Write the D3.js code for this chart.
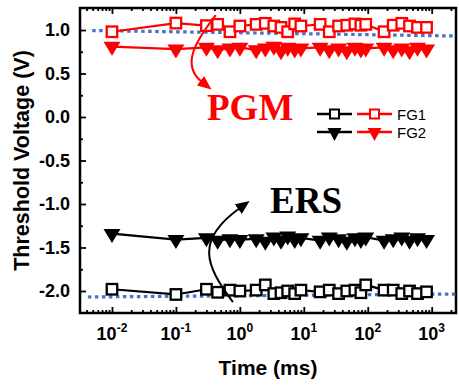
<!DOCTYPE html>
<html lang="en">
<head>
<meta charset="utf-8">
<title>Threshold Voltage vs Time</title>
<script src="https://d3js.org/d3.v7.min.js"></script>
<style>
  body { margin: 0; background: #fff; }
  svg text { font-family: "Liberation Sans", Arial, sans-serif; }
</style>
</head>
<body>
<div id="chart"></div>
<script>
// time points (ms)
var times = [0.01, 0.1, 0.3, 0.45, 0.7, 1, 1.8, 2.5, 3.4, 4.4, 5.6, 7.2, 9,
             18, 25, 35, 47, 63, 78, 93, 180, 250, 340, 450, 600, 830];

// threshold voltages (V)
var fg1Pgm = [0.98, 1.08, 1.05, 1.065, 0.98, 1.046, 1.065, 1.077, 1.046, 1.03, 0.98, 1.07, 1.046,
              1.065, 0.98, 1.046, 1.055, 1.07, 1.055, 1.065, 0.98, 1.055, 1.077, 1.046, 1.03, 1.03];
var fg2Pgm = [0.81, 0.78, 0.80, 0.77, 0.79, 0.80, 0.77, 0.79, 0.81, 0.76, 0.80, 0.78, 0.79,
              0.80, 0.77, 0.79, 0.76, 0.80, 0.78, 0.79, 0.80, 0.77, 0.79, 0.76, 0.80, 0.78];
var fg2Ers = [-1.34, -1.41, -1.39, -1.42, -1.40, -1.41, -1.40, -1.43, -1.38, -1.42, -1.37, -1.41, -1.39,
              -1.42, -1.38, -1.40, -1.43, -1.39, -1.41, -1.38, -1.42, -1.40, -1.38, -1.42, -1.39, -1.41];
var fg1Ers = [-1.98, -2.04, -1.98, -2.015, -1.99, -2.0, -1.99, -1.93, -2.03, -2.02, -2.0, -2.03, -1.99,
              -2.01, -1.99, -2.03, -2.0, -1.99, -2.02, -1.93, -1.99, -1.99, -2.03, -2.0, -2.03, -2.01];

var xTicks = [0.01, 0.1, 1, 10, 100, 1000];
var xTickExp = ["-2", "-1", "0", "1", "2", "3"];
var yTicks = [-2.0, -1.5, -1.0, -0.5, 0.0, 0.5, 1.0];
var yMinor = [-1.75, -1.25, -0.75, -0.25, 0.25, 0.75];

// reference lines and annotation arrows, in data units [time, V]
var refHigh = [[0.0049, 0.994], [2400, 0.931]];
var refLow = [[0.0042, -2.069], [2400, -2.035]];
var pgmArrow = [[0.42, 1.17], [0.21, 0.885], [0.116, 0.598], [0.256, 0.402]];
var ersArrow = [[0.78, -2.127], [0.285, -1.701], [0.199, -1.414], [1.0, -1.046]];

var w = 459, h = 385;
var pLeft = 80, pRight = 456, pTop = 8, pBottom = 313;

var svg = d3.select("#chart").append("svg")
  .attr("width", w).attr("height", h);

var x = d3.scaleLog().domain([Math.pow(10, -2.5), Math.pow(10, 3.38)]).range([pLeft, pRight]);
var y = d3.scaleLinear().domain([-2.253, 1.253]).range([pBottom, pTop]);

var xMinor = x.ticks().filter(function(d){ return xTicks.indexOf(d) < 0; });

// axes, ticks pointing inwards
var gb = svg.append("g").attr("transform", "translate(0," + pBottom + ")");
gb.call(d3.axisBottom(x).tickValues(xTicks).tickSize(-6).tickFormat(""));
gb.append("g").call(d3.axisBottom(x).tickValues(xMinor).tickSize(-3).tickFormat(""));

var gt = svg.append("g").attr("transform", "translate(0," + pTop + ")");
gt.call(d3.axisTop(x).tickValues(xTicks).tickSize(-6).tickFormat(""));
gt.append("g").call(d3.axisTop(x).tickValues(xMinor).tickSize(-3).tickFormat(""));

var gl = svg.append("g").attr("transform", "translate(" + pLeft + ",0)");
gl.call(d3.axisLeft(y).tickValues(yTicks).tickSize(-6).tickPadding(10)
  .tickFormat(function(d){ return d.toFixed(1); }));
gl.append("g").call(d3.axisLeft(y).tickValues(yMinor).tickSize(-3).tickFormat(""));

svg.selectAll(".domain").remove();
svg.selectAll(".tick line").attr("stroke", "#000").attr("stroke-width", 1.8);
gl.selectAll(".tick text")
  .attr("font-size", 18).attr("font-weight", "bold").attr("fill", "#000")
  .style("font-family", "'Liberation Sans', Arial, sans-serif");

// bottom tick labels with superscripts
var xl = svg.append("g");
xTicks.forEach(function(t, i){
  var tx = xl.append("text")
    .attr("x", x(t)).attr("y", 340)
    .attr("text-anchor", "middle")
    .attr("font-weight", "bold").attr("font-size", 18);
  tx.append("tspan").text("10");
  tx.append("tspan").attr("dy", -8).attr("font-size", 12).text(xTickExp[i]);
});

// frame
svg.append("rect")
  .attr("x", pLeft).attr("y", pTop)
  .attr("width", pRight - pLeft).attr("height", pBottom - pTop)
  .attr("fill", "none").attr("stroke", "#000").attr("stroke-width", 2.5);

// axis titles
svg.append("text")
  .attr("x", (pLeft + pRight) / 2).attr("y", 375)
  .attr("text-anchor", "middle").attr("font-weight", "bold").attr("font-size", 21)
  .text("Time (ms)");
svg.append("text")
  .attr("transform", "translate(29," + ((pTop + pBottom) / 2) + ") rotate(-90)")
  .attr("text-anchor", "middle").attr("font-weight", "bold").attr("font-size", 21.5)
  .text("Threshold Voltage (V)");

// blue dotted reference lines
var refLine = d3.line().x(function(d){ return x(d[0]); }).y(function(d){ return y(d[1]); });
[refHigh, refLow].forEach(function(r){
  svg.append("path")
    .attr("d", refLine(r))
    .attr("fill", "none").attr("stroke", "#4472C4")
    .attr("stroke-width", 3.2).attr("stroke-dasharray", "3.5,3.5");
});

// markers
var sq = 10.5, triW = 17, triH = 14;
var triPath = "M" + (-triW / 2) + "," + (-triH / 3) + "L" + (triW / 2) + "," + (-triH / 3) +
              "L0," + (2 * triH / 3) + "Z";

function drawSeries(vals, color, shape) {
  var pts = times.map(function(t, i){ return [t, vals[i]]; });
  var g = svg.append("g");
  g.append("path")
    .attr("d", d3.line().x(function(d){ return x(d[0]); }).y(function(d){ return y(d[1]); })(pts))
    .attr("fill", "none").attr("stroke", color).attr("stroke-width", 2.2);
  if (shape === "square") {
    g.selectAll("rect").data(pts).enter().append("rect")
      .attr("x", function(d){ return x(d[0]) - sq / 2; })
      .attr("y", function(d){ return y(d[1]) - sq / 2; })
      .attr("width", sq).attr("height", sq)
      .attr("fill", "#fff").attr("stroke", color).attr("stroke-width", 2.3);
  } else {
    g.selectAll("path.tri").data(pts).enter().append("path")
      .attr("class", "tri")
      .attr("d", triPath)
      .attr("transform", function(d){ return "translate(" + x(d[0]) + "," + y(d[1]) + ")"; })
      .attr("fill", color);
  }
}

drawSeries(fg1Ers, "#000", "square");
drawSeries(fg2Ers, "#000", "tri");
drawSeries(fg1Pgm, "#ff0000", "square");
drawSeries(fg2Pgm, "#ff0000", "tri");

// arrows
var defs = svg.append("defs");
[["redHead", "#ff0000"], ["blackHead", "#000"]].forEach(function(m){
  defs.append("marker")
    .attr("id", m[0]).attr("markerUnits", "userSpaceOnUse")
    .attr("markerWidth", 16).attr("markerHeight", 12)
    .attr("refX", 2).attr("refY", 6).attr("orient", "auto")
    .append("path").attr("d", "M0,0L14,6L0,12Z").attr("fill", m[1]);
});
function arrowPath(p) {
  return "M" + x(p[0][0]) + "," + y(p[0][1]) +
         "C" + x(p[1][0]) + "," + y(p[1][1]) + " " +
         x(p[2][0]) + "," + y(p[2][1]) + " " +
         x(p[3][0]) + "," + y(p[3][1]);
}
svg.append("path").attr("d", arrowPath(pgmArrow))
  .attr("fill", "none").attr("stroke", "#ff0000").attr("stroke-width", 2)
  .attr("marker-end", "url(#redHead)");
svg.append("path").attr("d", arrowPath(ersArrow))
  .attr("fill", "none").attr("stroke", "#000").attr("stroke-width", 2)
  .attr("marker-end", "url(#blackHead)");

// annotation labels
svg.append("text").attr("x", 207).attr("y", 120)
  .style("font-family", "'Liberation Serif', 'Times New Roman', serif")
  .attr("font-weight", "bold").attr("font-size", 37).attr("fill", "#ff0000")
  .text("PGM");
svg.append("text").attr("x", 270).attr("y", 213)
  .style("font-family", "'Liberation Serif', 'Times New Roman', serif")
  .attr("font-weight", "bold").attr("font-size", 37).attr("fill", "#000")
  .text("ERS");

// legend
var legend = svg.append("g");
var legRows = [
  { label: "FG1", shape: "square", y: 114 },
  { label: "FG2", shape: "tri", y: 132 }
];
var legCols = [{ color: "#000", x0: 317 }, { color: "#ff0000", x0: 357 }];
legRows.forEach(function(r){
  legCols.forEach(function(c){
    legend.append("line")
      .attr("x1", c.x0).attr("x2", c.x0 + 35).attr("y1", r.y).attr("y2", r.y)
      .attr("stroke", c.color).attr("stroke-width", 2.5);
    var cx = c.x0 + 17.5;
    if (r.shape === "square") {
      legend.append("rect").attr("x", cx - 4.5).attr("y", r.y - 4.5)
        .attr("width", 9).attr("height", 9)
        .attr("fill", "#fff").attr("stroke", c.color).attr("stroke-width", 2);
    } else {
      legend.append("path").attr("d", "M-7,-4L7,-4L0,9Z")
        .attr("transform", "translate(" + cx + "," + r.y + ")")
        .attr("fill", c.color);
    }
  });
  legend.append("text").attr("x", 397).attr("y", r.y + 5.5)
    .attr("font-size", 15).text(r.label);
});
</script>
</body>
</html>
